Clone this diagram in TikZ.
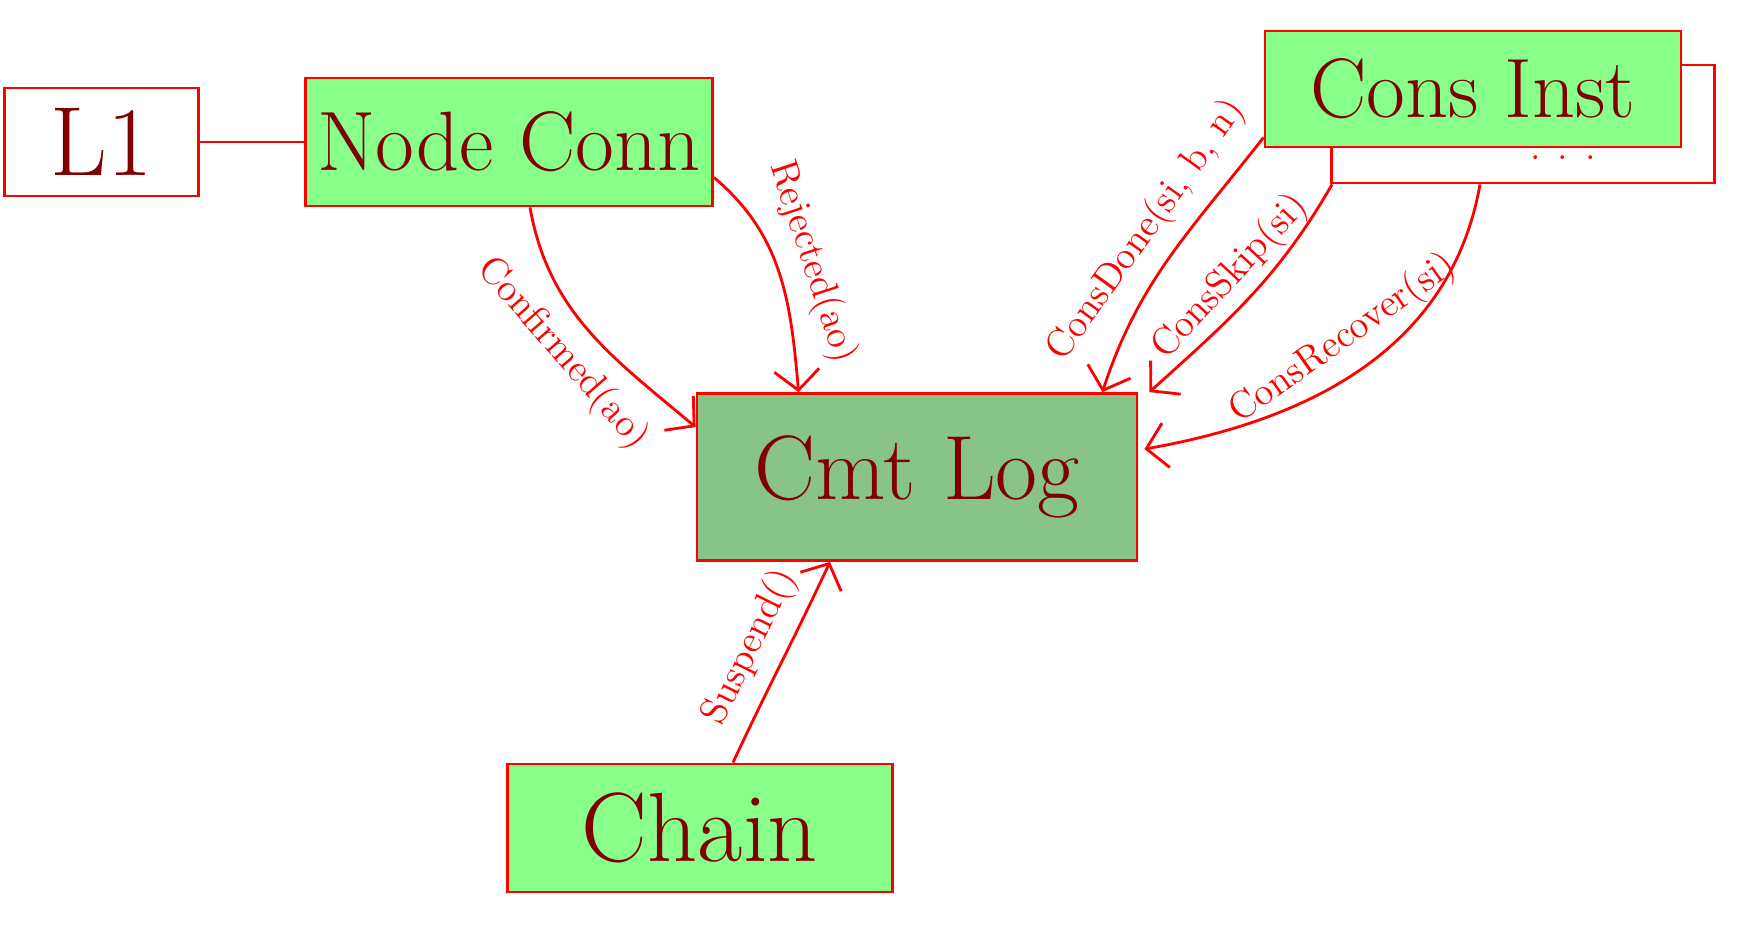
\documentclass[tikz,border=0pt]{standalone}
\usepackage{amsmath}
\usepackage{tikz}
\usetikzlibrary{positioning,arrows.meta}
\definecolor{litegreen}{RGB}{136,255,136}
\definecolor{loggreen}{RGB}{136,196,136}
\definecolor{darkred}{RGB}{128,0,0}

\begin{document}
\begin{tikzpicture}[blocknode/.style={rectangle, draw=red, thick, fill=litegreen, text=darkred, font=\fontsize{24}{28}\selectfont},
                    plainnode/.style={rectangle, draw=red, thick, fill=white, text=darkred, font=\fontsize{28}{32}\selectfont},
                    edgelabel/.style={text=red, font=\fontsize{11}{13}\selectfont, inner sep=4pt},
                    >={Straight Barb[length=2mm, width=4.5mm]}]
                \useasboundingbox (0,0) rectangle (17.48,-9.45);
                \node[blocknode, minimum width=3.82cm, minimum height=1.28cm] (1) at (5.09,-1.42) {Node Conn};
                \node[plainnode, minimum width=1.94cm, minimum height=1.08cm] (0) [left=1.04cm of 1] {L1};
                \node[blocknode, fill=loggreen, minimum width=4.40cm, minimum height=1.67cm, font=\fontsize{26}{30}\selectfont] (2) at (9.17,-4.77) {Cmt Log};
                \node[blocknode, minimum width=3.85cm, minimum height=1.28cm, font=\fontsize{28}{32}\selectfont] (3) at (7.00,-8.28) {Chain};
                \node[plainnode, minimum width=3.83cm, minimum height=1.18cm] (5) at (15.23,-1.24) {};
                \node[blocknode, minimum width=4.16cm, minimum height=1.16cm] (4) at (14.73,-0.89) {Cons Inst};
                \node[edgelabel] (6) at (15.63,-1.58) {. . .};
                \draw[thick,red] (1.west) -- (0.east);
                \draw[thick,->,red] ([xshift=2.1mm]1.south) to[out=-80,in=140] node[edgelabel, sloped, below] {Confirmed(ao)} ([yshift=-3.5mm]2.north west);
                \draw[thick,->,red] ([yshift=3mm]1.south east) to[out=-40,in=95] node[edgelabel, sloped, above] {Rejected(ao)} ([xshift=10.3mm]2.north west);
                \draw[thick,->,red] ([yshift=1.1mm]4.south west) to[out=-128,in=72] node[edgelabel, sloped, above, pos=0.47] {ConsDone(si, b, n)} ([xshift=-3.6mm]2.north east);
                \draw[thick,->,red] ([xshift=0.2mm]5.south west) to[out=-120,in=42] node[edgelabel, sloped, above, inner sep=2pt] {ConsSkip(si)} ([xshift=1.1mm]2.north east);
                \draw[thick,->,red] ([xshift=-4.3mm]5.south) to[out=-100,in=10] node[edgelabel, sloped, above] {ConsRecover(si)} ([xshift=0.6mm, yshift=-5.7mm]2.north east);
                \draw[thick,->,red] ([xshift=3.3mm]3.north) to[out=65,in=-115] node[edgelabel, sloped, above] {Suspend()} ([xshift=-8.7mm]2.south);
            \end{tikzpicture}
\end{document}
